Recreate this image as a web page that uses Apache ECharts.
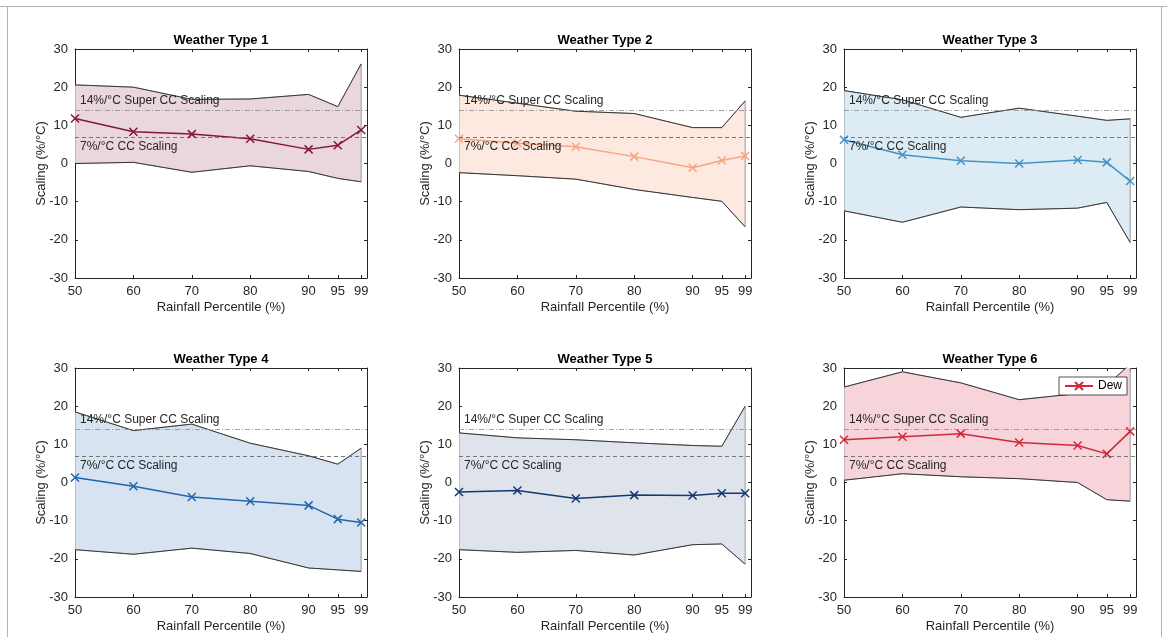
<!DOCTYPE html>
<html>
<head>
<meta charset="utf-8">
<title>Rainfall scaling by weather type</title>
<script src="https://cdn.jsdelivr.net/npm/echarts@6/dist/echarts.min.js"></script>
<style>
  html, body { margin: 0; padding: 0; background: #fff; }
  #topline { position: absolute; left: 0; top: 6px; width: 1167px; height: 0; border-top: 1px solid #b4b4b4; }
  #frame { position: absolute; left: 7px; top: 6px; width: 1153px; height: 640px; border-left: 1px solid #b4b4b4; border-right: 1px solid #b4b4b4; }
  #main { position: absolute; left: 0; top: 0; width: 1167px; height: 637px; }
</style>
</head>
<body>
<div id="topline"></div>
<div id="frame"></div>
<div id="main"></div>
<script>
  // rainfall percentiles (x positions and tick labels)
  var percentiles = [50, 60, 70, 80, 90, 95, 99];
  var titles = ['Weather Type 1', 'Weather Type 2', 'Weather Type 3',
                'Weather Type 4', 'Weather Type 5', 'Weather Type 6'];

  // scaling (%/°C): central estimate and upper / lower bounds per weather type
  var wt1Mid   = [11.8, 8.3, 7.7, 6.5, 3.7, 4.8, 8.8];
  var wt1Upper = [20.6, 20.0, 16.8, 16.9, 18.1, 14.9, 26.1];
  var wt1Lower = [0.0, 0.3, -2.3, -0.6, -2.1, -3.9, -4.8];

  var wt2Mid   = [6.5, 5.3, 4.4, 1.8, -1.1, 0.8, 2.0];
  var wt2Upper = [17.9, 15.8, 13.7, 13.1, 9.4, 9.4, 16.4];
  var wt2Lower = [-2.4, -3.2, -4.1, -6.8, -8.9, -9.9, -16.6];

  var wt3Mid   = [6.2, 2.3, 0.7, 0.0, 0.9, 0.3, -4.6];
  var wt3Upper = [19.1, 16.7, 12.1, 14.5, 12.4, 11.3, 11.7];
  var wt3Lower = [-12.4, -15.4, -11.4, -12.1, -11.7, -10.2, -20.7];

  var wt4Mid   = [1.3, -1.0, -3.8, -4.9, -6.0, -9.6, -10.5];
  var wt4Upper = [18.5, 13.6, 15.3, 10.3, 7.0, 4.8, 9.0];
  var wt4Lower = [-17.6, -18.8, -17.2, -18.6, -22.4, -22.9, -23.3];

  var wt5Mid   = [-2.5, -2.1, -4.2, -3.3, -3.4, -2.8, -2.8];
  var wt5Upper = [13.0, 11.7, 11.2, 10.4, 9.7, 9.5, 20.0];
  var wt5Lower = [-17.6, -18.3, -17.8, -19.0, -16.3, -16.1, -21.4];

  var wt6Mid   = [11.2, 12.0, 12.8, 10.5, 9.7, 7.5, 13.4];
  var wt6Upper = [25.0, 29.0, 26.1, 21.7, 23.3, 25.5, 31.0];
  var wt6Lower = [0.6, 2.3, 1.5, 1.0, 0.0, -4.5, -4.9];

  // reference scaling rates
  var refValues = [14, 7];
  var refLabels = ['14%/°C Super CC Scaling', '7%/°C CC Scaling'];

  var mids = [wt1Mid, wt2Mid, wt3Mid, wt4Mid, wt5Mid, wt6Mid];
  var uppers = [wt1Upper, wt2Upper, wt3Upper, wt4Upper, wt5Upper, wt6Upper];
  var lowers = [wt1Lower, wt2Lower, wt3Lower, wt4Lower, wt5Lower, wt6Lower];

  var lineColors = ['#851838', '#f4a582', '#4393c3', '#2166ac', '#123a6b', '#cf2a3c'];
  var fillColors = ['#ead7dd', '#fde9df', '#ddebf5', '#d7e3f1', '#dfe4ec', '#f7d4da'];

  var font = 'Arial, "Liberation Sans", Helvetica, sans-serif';
  var ink = '#262626';
  var colLeft = [75, 459, 844];
  var rowTop = [49, 368];
  var plotW = 292, plotH = 229;
  var crossSymbol = 'path://M0,0L10,10M10,0L0,10';

  function pairs(ys) {
    return percentiles.map(function (x, k) { return [x, ys[k]]; });
  }

  // polygon between upper and lower bound, placed through the axes
  function bandRenderer(up, lo, fill) {
    return function (params, api) {
      var pts = [];
      for (var k = 0; k < percentiles.length; k++) pts.push(api.coord([percentiles[k], up[k]]));
      for (k = percentiles.length - 1; k >= 0; k--) pts.push(api.coord([percentiles[k], lo[k]]));
      return { type: 'polygon', shape: { points: pts }, style: { fill: fill, stroke: '#9a9a9a', lineWidth: 1 } };
    };
  }

  function buildOption() {
    var grids = [], xAxes = [], yAxes = [], series = [], titleList = [];

    for (var i = 0; i < 6; i++) {
      var px = colLeft[i % 3], py = rowTop[Math.floor(i / 3)];
      grids.push({ left: px, top: py, width: plotW, height: plotH, outerBoundsMode: 'none' });

      titleList.push({
        text: titles[i], left: px + plotW / 2, top: py - 15, textAlign: 'center', padding: 0,
        textStyle: { fontSize: 13, fontWeight: 'bold', color: '#000', fontFamily: font }
      });

      // bottom/left axes carry labels, top/right only close the box
      [false, true].forEach(function (isTop) {
        var xa = {
          type: 'value', gridIndex: i, position: isTop ? 'top' : 'bottom', min: 50, max: 100,
          axisLine: { show: true, onZero: false, lineStyle: { color: ink, width: 1 } },
          axisTick: { show: true, inside: true, length: 3, customValues: percentiles.slice(), lineStyle: { color: ink } },
          axisLabel: { show: !isTop, customValues: percentiles.slice(), margin: 7, fontSize: 13, color: ink, fontFamily: font },
          splitLine: { show: false }
        };
        var ya = {
          type: 'value', gridIndex: i, position: isTop ? 'right' : 'left', min: -30, max: 30, interval: 10,
          axisLine: { show: true, onZero: false, lineStyle: { color: ink, width: 1 } },
          axisTick: { show: true, inside: true, length: 3, lineStyle: { color: ink } },
          axisLabel: { show: !isTop, margin: 7, fontSize: 13, color: ink, fontFamily: font },
          splitLine: { show: false }
        };
        if (!isTop) {
          xa.name = 'Rainfall Percentile (%)'; xa.nameLocation = 'middle'; xa.nameGap = 23;
          xa.nameMoveOverlap = false;
          xa.nameTextStyle = { fontSize: 13, color: ink, fontFamily: font };
          ya.name = 'Scaling (%/°C)'; ya.nameLocation = 'middle'; ya.nameGap = 27;
          ya.nameMoveOverlap = false;
          ya.nameTextStyle = { fontSize: 13, color: ink, fontFamily: font };
        }
        xAxes.push(xa);
        yAxes.push(ya);
      });

      var ax = 2 * i;

      series.push({
        type: 'custom', xAxisIndex: ax, yAxisIndex: ax, clip: true, silent: true, z: 1,
        data: [[50, 0]], renderItem: bandRenderer(uppers[i], lowers[i], fillColors[i])
      });

      [uppers[i], lowers[i]].forEach(function (b) {
        series.push({
          type: 'line', xAxisIndex: ax, yAxisIndex: ax, data: pairs(b), z: 2, silent: true,
          symbol: 'none', clip: true, lineStyle: { color: '#1e1e1e', width: 0.8 }
        });
      });

      series.push({
        type: 'line', name: i === 5 ? 'Dew' : 'WT' + (i + 1),
        xAxisIndex: ax, yAxisIndex: ax, data: pairs(mids[i]), z: 4, clip: true,
        symbol: crossSymbol, symbolSize: 8,
        lineStyle: { color: lineColors[i], width: 1.5 },
        itemStyle: { color: lineColors[i], borderColor: lineColors[i], borderWidth: 1.5 },
        markLine: {
          silent: true, symbol: ['none', 'none'], animation: false,
          data: [
            { yAxis: refValues[0], lineStyle: { color: '#8a8a8a', width: 0.8, type: [5, 2, 1, 2] },
              label: { show: true, position: 'insideStartTop', formatter: refLabels[0], distance: [5, 3],
                       color: ink, fontSize: 12, fontFamily: font } },
            { yAxis: refValues[1], lineStyle: { color: '#6a6a6a', width: 0.9, type: [4, 3] },
              label: { show: true, position: 'insideStartBottom', formatter: refLabels[1], distance: [5, 4],
                       color: ink, fontSize: 12, fontFamily: font } }
          ]
        }
      });
    }

    return {
      animation: false,
      title: titleList,
      grid: grids,
      xAxis: xAxes,
      yAxis: yAxes,
      legend: {
        data: ['Dew'], left: 1059, top: 377, z: 10, padding: [3, 5], itemWidth: 28, itemHeight: 10,
        borderColor: ink, borderWidth: 0.8, backgroundColor: '#fff',
        textStyle: { fontSize: 12, color: '#000', fontFamily: font }
      },
      series: series
    };
  }

  var chart = echarts.init(document.getElementById('main'));
  chart.setOption(buildOption());
</script>
</body>
</html>
